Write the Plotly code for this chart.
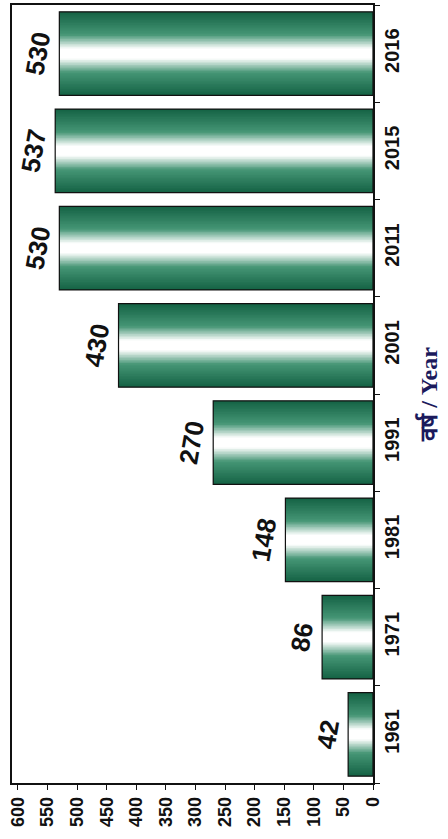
import plotly.graph_objects as go

years = ["1961", "1971", "1981", "1991", "2001", "2011", "2015", "2016"]
values = [42, 86, 148, 270, 430, 530, 537, 530]
value_ticks = [0, 50, 100, 150, 200, 250, 300, 350, 400, 450, 500, 550, 600]

SANS = "Liberation Sans"

fig = go.Figure()

# stepped gradient across bar thickness: dark edges -> white centre
dark = (22, 100, 70)
mid = (70, 150, 118)
steps = 26
full_w = 0.86
for i in range(steps):
    t = i / (steps - 1)  # 0 edge -> 1 centre
    if t < 0.55:
        a = t / 0.55
        c = tuple(dark[k] + (mid[k] - dark[k]) * a for k in range(3))
    else:
        a = min(1.0, (t - 0.55) / 0.35)
        c = tuple(mid[k] + (255 - mid[k]) * a for k in range(3))
    w = full_w * (1 - t * 0.96)
    fig.add_trace(go.Bar(
        x=values, y=years, orientation="h", width=w,
        marker=dict(color="rgb(%d,%d,%d)" % c, line=dict(width=0)),
        hoverinfo="skip", showlegend=False,
    ))

# outline + value labels
fig.add_trace(go.Bar(
    x=values, y=years, orientation="h", width=full_w,
    marker=dict(color="rgba(0,0,0,0)", line=dict(color="#111", width=1.2)),
    text=[str(v) for v in values], textposition="outside",
    textangle=-80, constraintext="none", cliponaxis=False,
    textfont=dict(family=SANS, size=26, color="#111", weight="bold"),
    showlegend=False,
))

fig.update_layout(
    width=448, height=839,
    margin=dict(l=12, r=75, t=5, b=56),
    barmode="overlay",
    plot_bgcolor="white", paper_bgcolor="white",
    showlegend=False,
    font=dict(family=SANS),
)
fig.update_xaxes(
    range=[610, 0], tickvals=value_ticks, tickangle=-90, automargin=False,
    ticks="outside", ticklen=5, tickcolor="#111",
    tickfont=dict(family=SANS, size=18, color="#111", weight="bold"),
    showgrid=False, zeroline=False,
    showline=True, linecolor="#111", linewidth=1.5, mirror=True,
)
fig.update_yaxes(
    type="category", side="right", tickangle=-90, automargin=False,
    ticks="outside", ticklen=5, tickcolor="#111", tickson="boundaries",
    tickfont=dict(family=SANS, size=20, color="#111", weight="bold"),
    showgrid=False, zeroline=False,
    showline=True, linecolor="#111", linewidth=1.5, mirror=True,
    title=dict(text="वर्ष / Year", standoff=18,
               font=dict(family="Liberation Serif", size=24, color="#1b1a5c", weight="bold")),
)

fig.write_html("out.html", config={"displayModeBar": False},
               post_script="document.body.style.margin='0';")
